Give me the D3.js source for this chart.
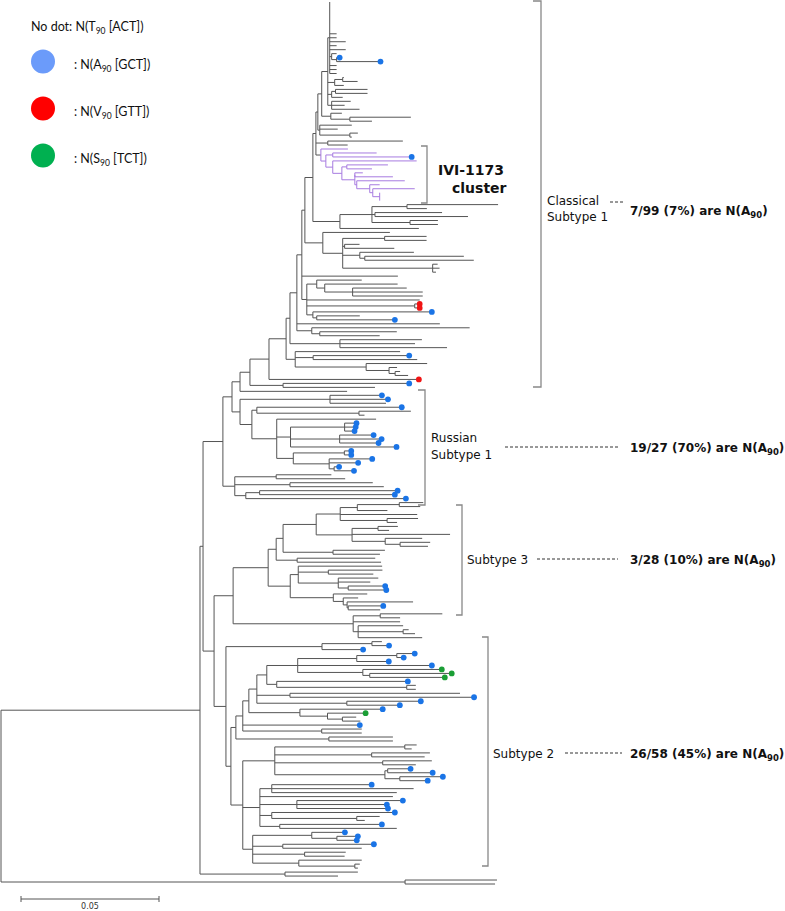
<!DOCTYPE html>
<html><head><meta charset="utf-8">
<script src="https://cdn.jsdelivr.net/npm/d3@7/dist/d3.min.js"></script>
<style>html,body{margin:0;padding:0;background:#fff;} svg{display:block}</style>
</head><body>
<svg id="chart" width="785" height="911"></svg>
<script>
// ================= DATA =================
// Branch lengths in units of 0.001 substitutions/site.
// Leaf names: n = no dot (T90), b = A90, r = V90, g = S90. Internal node "P" = IVI-1173 cluster.

// --- Classical Subtype 1 ---
const T1 = "(n:0,n:0,n:0,n:0,n:0,n:0,n:0,n:0,n:2.5,n:2.5,n:5.8,n:2.5,n:5.8,(n:1.8,(b:1.1,b:15.9):1.8):0.7,n:2.5,n:2.5,n:2.5)";
const T2 = "((n:0.4,n:5.4):2.9,n:3.3)";
const T3 = "((n:11.6,n:11.6):1.4,n:4)";
const T4 = "(n:6.9,n:4.7,n:10.1)";
const T5 = "(n:4,(n:22.1,n:8):6.9)";
const T6 = "(n:11.6,n:6.5,(n:2.9,n:0.7):10.9)";
const T7 = "(n:27.2,n:7.2)";
const IVI = "(n:9.8,((n:15.9,b:28.6):2.5,(n:30.4,((n:14.9,n:9.1):1.8,((n:2.9,n:13.8):0,(n:17.4,(n:3.6,(n:15.2,(n:0,n:0,n:0):2.5):1.1):4.7):0.7):4.7):3.3):2.5):1.8)P";
const G1 = "(((n:33,n:7.2):12.7,(n:24.3,n:33.7):1.1,(n:10.1,n:10.1):13.8):11.6,n:28.6)";
const G2 = "(n:24.3,((n:15.2,n:15.2):15.2,(n:5.4,n:18):0.7,(n:19.6,(n:35.9,n:39.5):1.8):6.2,(n:1.8,n:2.5,n:1.2):32.6):7.2)";
const V  = "((n:16.3,(n:26.4,(n:19.6,n:25.4,n:25.4):10.1):2.9):3.6,n:40.9,(r:1.8,r:1.8):39.1,(b:43.1,(n:15.6,b:28.3):1.4):2.2)";
const W  = "(n:57.2,(n:27.9,n:21.7):2.9)";
const Z  = "(n:29.7,n:27.2,n:38.8)";
const Y  = "(n:38,(b:34.8,n:37.7):6.5,(n:22.1,(n:2.9,(n:1.8,n:4.7):2.2):8.3):25.7)";

// --- Russian Subtype 1 ---
const RUmain = "((b:18.8,b:21,n:20.3):32.6,((b:52.5,(n:18.8,n:2):37):1.8,(n:36,((b:4.3,b:4,b:3.6):19.6,(b:12.3,b:15.2,b:14.1):17.8,b:38.4):5,((b:2.5,b:2.5):18.5,(b:15.6,b:10.5,(b:1.8,b:7.2):1.8):13):6):9):4.3)";
const RUbot = "((n:20,n:25):15,(n:30,n:34):20,((b:50,b:49):5,b:58):4)";

// --- Subtype 3 and neighbours ---
const S3e = "(((n:8.7,n:7.6):15.2,n:10.9):6.2,n:27.9,(n:11.2,n:3.6):17)";
const S3f = "((n:7.2,n:4):9.4,n:35.5,(n:13.4,(n:10.9,n:10.1):5.4):12)";
const S3d = "(n:18.8,n:17)";
const S3n = "(n:28.3,n:30.4)";
const S3b1 = "(n:30.4,(n:19.6,n:16.3):10.9,(n:14.5,n:11.6,(b:13.4,b:13.8):3.6):14.5)";
const S3b2 = "(n:12.3,(n:5.4,(n:23.9,(b:12.7,n:11.6):0.4):1.4):3.6)";
const BW = "((n:22.5,n:7.2):9.8,n:17,(n:16.3,(n:2,n:4.3):16.3,n:23.2):1.8)";

// --- Subtype 2 ---
const S2a1 = "((n:3.6,b:6.2):18.1,b:14.9)";
const S2a2 = "(((b:6.5,b:2.5):14.5,b:11.6):21.4,b:48.6,(g:28.6,(g:29.7,g:27.2):2.5):23.6)";
const S2a3 = "(b:47.5,(n:3.3,n:3.3):47.1)";
const S2a4 = "(n:61.6,b:66.7)";
const S2a5 = "(b:26.8,b:19.2)";
const S2a6 = "(b:30,(g:13.8,(n:5,n:6.5):5.4):10)";
const S2a7 = "(n:14.5,n:14.5)";
const S2a8 = "(n:23.2,n:23.2)";
const S2bT = "((n:4.3,n:2.5):47.1,(n:21.1,n:19.2):35.1,(n:17.8,n:12):39.1,((b:8.3,b:16.3):1,(b:15.6,b:10.1):5.4):39.9)";
const S2bM = "((b:36.2,n:51.4,n:45.3):4.3,n:48.2,(b:38.4,b:32.6,b:33):13.4,(b:44.6,(n:8.3,n:2.9):30.8):4.3,(b:37,n:42.4):7.2)";
const S2bL = "((b:12,(b:7.6,b:7.2):9.1):21.4,(b:33,n:28.6):10.9,(n:14.9,n:14.5):18.8,(n:22.8,(n:1.8,n:1.1):20.3):16.7)";

// --- assembly of the full tree ---
const K1 = `(${T1}:0.7,${T2}:2.5,${T3}:1.4,${T4}:1.4)`;
const K2 = `(${K1}:2.2,${T5}:3.3)`;
const X12 = `(${K2}:1.4,${T6}:0.7)`;
const X11 = `(${X12}:0.7,${T7}:4.3,${IVI}:1.8)`;
const X10 = `(${X11}:1.1,${G1}:9.8)`;
const X9 = `(${X10}:2.9,${G2}:6.5)`;
const X7 = `(${X9}:1.1,n:34.8,${V}:1.8)`;
const X6 = `(${X7}:1.8,n:51.8,${W}:5.4)`;
const X5 = `(${X6}:2.5,${Z}:18.1)`;
const X4 = `(${X5}:1.4,${Y}:3.3)`;
const X3 = `(${X4}:6.2,r:54.3)`;
const X1 = `(${X3}:6.9,(b:45.7,n:33.3):12)`;
const CL = `(${X1}:3.6,n:38.8)`;
const S3Nc = `(${S3e}:8.7,${S3f}:13)`;
const S3Na = `(${S3Nc}:12,${S3d}:18.1)`;
const S3 = `((${S3Na}:2.5,${S3n}:7.6):2.9,(${S3b1}:2.9,${S3b2}:15.6):8)`;
const LC = `((((${S2a2}:11.2,${S2a3}:3.6):3.6,${S2a4}:12,${S2a5}:32.6):2.9,${S2a6}:18.5):2.2,b:42.4,${S2a7}:28.6)`;
const S2B = `(${S2bT}:11.6,${S2bM}:6.2,${S2bL}:3.6)`;
const S2 = `(${S2a1}:34.8,((${LC}:2.5,${S2a8}:33.7):1.8,${S2B}:4.3):1.8)`;
const M = `(${S3}:12.7,${BW}:43.5)`;
const U1 = `(${CL}:2.9,${RUmain}:2.9)`;
const CR = `(${U1}:3.3,${RUbot}:4.3)`;
const Q = `(${M}:6.9,${S2}:4.3)`;
const A = `(${CR}:7.2,${Q}:4)`;
const INGROUP = `(${A}:1.1,(n:26.4,n:19.2):30.8)`;
const OUTGROUP = "(n:33.3,n:32.6)";
const treeNewick = `(${INGROUP}:72.1,${OUTGROUP}:146.4);`;

// legend
const legendText = [["No dot: N(T","90"," [ACT])"],[": N(A","90"," [GCT])"],[": N(V","90"," [GTT])"],[": N(S","90"," [TCT])"]];
const legendColors = [null, "#6b9bfa", "#ff0000", "#00b050"];
const dotColors = {b:"#1a74e6", r:"#f01414", g:"#1a9e35"};
// clade labels
const cladeNames = [["Classical","Subtype 1"],["Russian","Subtype 1"],["Subtype 3"],["Subtype 2"]];
const cladeStats = ["7/99 (7%)","19/27 (70%)","3/28 (10%)","26/58 (45%)"];
const clusterLabel = ["IVI-1173","cluster"];
const scaleValue = 0.05;

// ================= RENDER =================
function parseNewick(s){
  let i=0;
  function node(){
    const n={children:[],name:"",len:0};
    if(s[i]==='('){
      i++; n.children.push(node());
      while(s[i]===','){i++; n.children.push(node());}
      i++;
    }
    let name='';
    while(i<s.length && !",():;".includes(s[i])) name+=s[i++];
    n.name=name.trim();
    if(s[i]===':'){i++; let num=''; while(i<s.length && !",();".includes(s[i])) num+=s[i++]; n.len=+num;}
    return n;
  }
  return node();
}

const svg = d3.select("#chart");
const root = d3.hierarchy(parseNewick(treeNewick.replace(/\s+/g,"")), d=>d.children.length?d.children:null);
root.eachBefore(d=>{ d.dist = d.parent ? d.parent.dist + d.data.len : 0; d.purple = d.data.name==='P' || (d.parent && d.parent.purple); });
const leaves = root.leaves();
const y = d3.scaleLinear().domain([0, leaves.length-1]).range([2, 884]);
leaves.forEach((d,i)=> d.yy = y(i));
root.eachAfter(d=>{ if(d.children) d.yy = (d.children[0].yy + d.children[d.children.length-1].yy)/2; });
const x = d3.scaleLinear().domain([0, scaleValue*1000]).range([1, 139]);

const lineCol = "#555", purpleCol = "#a77be0";
const g = svg.append("g");
g.selectAll("line.h").data(root.descendants().filter(d=>d.parent)).join("line")
  .attr("x1", d=>x(d.parent.dist)).attr("x2", d=>x(d.dist))
  .attr("y1", d=>d.yy).attr("y2", d=>d.yy)
  .attr("stroke", d=>d.parent.purple?purpleCol:lineCol).attr("stroke-width",1);
g.selectAll("line.v").data(root.descendants().filter(d=>d.children)).join("line")
  .attr("x1", d=>x(d.dist)).attr("x2", d=>x(d.dist))
  .attr("y1", d=>d.children[0].yy).attr("y2", d=>d.children[d.children.length-1].yy)
  .attr("stroke", d=>d.purple?purpleCol:lineCol).attr("stroke-width",1);
g.selectAll("circle.tip").data(leaves.filter(d=>dotColors[d.data.name])).join("circle")
  .attr("cx", d=>x(d.dist)).attr("cy", d=>d.yy).attr("r", 2.9)
  .attr("fill", d=>dotColors[d.data.name]);

// legend
const legY = [31, 69, 116, 163];
legendText.forEach((t,i)=>{
  if(legendColors[i]) svg.append("circle").attr("cx",43).attr("cy",legY[i]-7.5).attr("r",12).attr("fill",legendColors[i]);
  const tx = svg.append("text").attr("x", i===0?31:74).attr("y",legY[i])
    .attr("font-family","Lato, 'Open Sans', sans-serif").attr("font-size",12.5).attr("fill","#111");
  tx.append("tspan").text(t[0]);
  tx.append("tspan").attr("dy",3).attr("font-size",8.5).text(t[1]);
  tx.append("tspan").attr("dy",-3).text(t[2]);
});

// brackets
const brCol = "#888";
function bracket(bx, y1, y2, tick){
  svg.append("path").attr("d",`M${bx-tick},${y1}H${bx}V${y2}H${bx-tick}`)
    .attr("fill","none").attr("stroke",brCol).attr("stroke-width",1.3);
}
bracket(541, 1, 387, 8);
bracket(427, 146, 203, 6);
bracket(425, 390, 505, 7);
bracket(462, 505, 615, 6);
bracket(488, 637, 866, 6);

// cluster label
svg.append("text").attr("x",438).attr("y",175).attr("font-family","'DejaVu Sans', Verdana, sans-serif")
  .attr("font-weight","bold").attr("font-size",14).attr("fill","#111").text(clusterLabel[0]);
svg.append("text").attr("x",452).attr("y",193).attr("font-family","'DejaVu Sans', Verdana, sans-serif")
  .attr("font-weight","bold").attr("font-size",14).attr("fill","#111").text(clusterLabel[1]);

// clade labels + stats
const labelPos = [
  {x:547, ys:[205,221], dash:[610,623,202], sy:215},
  {x:431, ys:[442,459], dash:[505,618,447], sy:452},
  {x:467, ys:[564], dash:[537,618,559], sy:564},
  {x:493, ys:[758], dash:[565,622,753], sy:758}
];
cladeNames.forEach((names,i)=>{
  const p = labelPos[i];
  names.forEach((nm,j)=> svg.append("text").attr("x",p.x).attr("y",p.ys[j])
    .attr("font-family","'DejaVu Sans', Verdana, sans-serif").attr("font-size",12).attr("fill","#111").text(nm));
  svg.append("line").attr("x1",p.dash[0]).attr("x2",p.dash[1]).attr("y1",p.dash[2]).attr("y2",p.dash[2])
    .attr("stroke","#333").attr("stroke-dasharray","3,2").attr("stroke-width",1);
  const st = svg.append("text").attr("x",630).attr("y",p.sy)
    .attr("font-family","'DejaVu Sans', Verdana, sans-serif").attr("font-weight","bold").attr("font-size",12).attr("fill","#111");
  st.append("tspan").text(cladeStats[i] + " are N(A");
  st.append("tspan").attr("dy",3).attr("font-size",8.5).text("90");
  st.append("tspan").attr("dy",-3).text(")");
});

// scale bar
const sbx0 = 21, sbx1 = sbx0 + (x(scaleValue*1000)-x(0)), sby = 899;
svg.append("path").attr("d",`M${sbx0},${sby-3}V${sby+3}M${sbx0},${sby}H${sbx1}M${sbx1},${sby-3}V${sby+3}`)
  .attr("stroke","#555").attr("fill","none").attr("stroke-width",1);
svg.append("text").attr("x",(sbx0+sbx1)/2).attr("y",909).attr("text-anchor","middle")
  .attr("font-family","'DejaVu Sans', sans-serif").attr("font-size",8).attr("fill","#333").text(String(scaleValue));
</script></body></html>
